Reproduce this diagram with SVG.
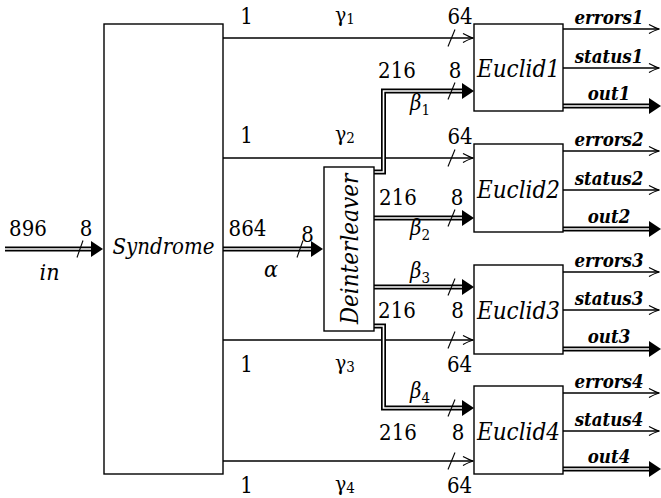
<svg xmlns="http://www.w3.org/2000/svg" width="661" height="498" viewBox="0 0 661 498">
<style>
.box{fill:#fff;stroke:#000;stroke-width:1.4}
.thin{fill:none;stroke:#000;stroke-width:1.3}
.dbo{fill:none;stroke:#000;stroke-width:5;stroke-linejoin:miter}
.dbi{fill:none;stroke:#fff;stroke-width:1.6;stroke-linejoin:miter}
.sl{stroke:#000;stroke-width:1.1}
.t{font-family:"DejaVu Serif Condensed","DejaVu Serif",serif;font-size:22px;fill:#000;text-anchor:middle}
.lab{font-style:italic;font-size:24px}
.syn{font-style:italic;font-size:22px}
.gr{font-size:21px}
.be{font-size:22px;font-style:italic}
.in{font-style:italic;font-size:23px}
.sub{font-size:15px;font-style:normal}
.out{font-style:italic;font-weight:bold;font-size:18.5px}
</style>
<defs>
<marker id="ah" viewBox="-11 -5 12 10" refX="0" refY="0" markerWidth="12" markerHeight="10" markerUnits="userSpaceOnUse" orient="auto">
<path d="M-10,-4.5 Q-3.5,-1 0,0 Q-3.5,1 -10,4.5" fill="none" stroke="#000" stroke-width="1.2"/>
</marker>
<marker id="fh" viewBox="0 0 12 16" refX="0" refY="8" markerWidth="12" markerHeight="16" markerUnits="userSpaceOnUse" orient="auto">
<path d="M0,0 L12,8 L0,16 z" fill="#000"/>
</marker>
</defs>

<g id="connectors">
<path class="thin" d="M223,38 H473" marker-end="url(#ah)"/>
<path class="thin" d="M223,158 H473" marker-end="url(#ah)"/>
<path class="thin" d="M223,340 H473" marker-end="url(#ah)"/>
<path class="thin" d="M223,461 H473" marker-end="url(#ah)"/>
<path class="thin" d="M563,29 H659" marker-end="url(#ah)"/>
<path class="thin" d="M563,68 H659" marker-end="url(#ah)"/>
<path class="thin" d="M563,151 H659" marker-end="url(#ah)"/>
<path class="thin" d="M563,190 H659" marker-end="url(#ah)"/>
<path class="thin" d="M563,272 H659" marker-end="url(#ah)"/>
<path class="thin" d="M563,310 H659" marker-end="url(#ah)"/>
<path class="thin" d="M563,393 H659" marker-end="url(#ah)"/>
<path class="thin" d="M563,431 H659" marker-end="url(#ah)"/>
<path class="dbo" d="M5,249 H91" marker-end="url(#fh)"/>
<path class="dbi" d="M5,249 H91"/>
<path class="dbo" d="M223,249 H311" marker-end="url(#fh)"/>
<path class="dbi" d="M223,249 H311"/>
<path class="dbo" d="M374,172 H383.5 V91 H462" marker-end="url(#fh)"/>
<path class="dbi" d="M374,172 H383.5 V91 H462"/>
<path class="dbo" d="M374,218 H462" marker-end="url(#fh)"/>
<path class="dbi" d="M374,218 H462"/>
<path class="dbo" d="M374,287 H462" marker-end="url(#fh)"/>
<path class="dbi" d="M374,287 H462"/>
<path class="dbo" d="M374,326 H383.5 V408 H462" marker-end="url(#fh)"/>
<path class="dbi" d="M374,326 H383.5 V408 H462"/>
<path class="dbo" d="M563,106 H649" marker-end="url(#fh)"/>
<path class="dbi" d="M563,106 H649"/>
<path class="dbo" d="M563,229 H649" marker-end="url(#fh)"/>
<path class="dbi" d="M563,229 H649"/>
<path class="dbo" d="M563,349 H649" marker-end="url(#fh)"/>
<path class="dbi" d="M563,349 H649"/>
<path class="dbo" d="M563,469 H649" marker-end="url(#fh)"/>
<path class="dbi" d="M563,469 H649"/>
<path class="sl" d="M77,257.5 L83,240.5"/>
<path class="sl" d="M297,257.5 L303,240.5"/>
<path class="sl" d="M448,46.5 L455,29.5"/>
<path class="sl" d="M448,99.5 L455,82.5"/>
<path class="sl" d="M448,166.5 L455,149.5"/>
<path class="sl" d="M448,226.5 L455,209.5"/>
<path class="sl" d="M448,295.5 L455,278.5"/>
<path class="sl" d="M448,348.5 L455,331.5"/>
<path class="sl" d="M448,416.5 L455,399.5"/>
<path class="sl" d="M448,469.5 L455,452.5"/>
<g class="t">
<text x="28" y="236">896</text>
<text x="86" y="236">8</text>
<text class="in" x="49.5" y="280">in</text>
<text x="247.5" y="236">864</text>
<text x="307.5" y="242">8</text>
<text class="in" x="271" y="277">α</text>

<text x="246.5" y="24">1</text>
<text class="gr" x="345" y="22">γ<tspan class="sub" dy="2">1</tspan></text>
<text x="460" y="24">64</text>
<text x="397" y="78">216</text>
<text x="455" y="78">8</text>
<text class="be" x="420" y="110">β<tspan class="sub" dy="5">1</tspan></text>

<text x="246.5" y="143">1</text>
<text class="gr" x="345" y="141">γ<tspan class="sub" dy="2">2</tspan></text>
<text x="460" y="144">64</text>
<text x="398" y="205">216</text>
<text x="457" y="205">8</text>
<text class="be" x="420" y="235">β<tspan class="sub" dy="5">2</tspan></text>

<text class="be" x="420" y="278">β<tspan class="sub" dy="5">3</tspan></text>
<text x="397" y="318">216</text>
<text x="457.5" y="318">8</text>
<text x="246.5" y="372">1</text>
<text class="gr" x="345" y="370">γ<tspan class="sub" dy="2">3</tspan></text>
<text x="459.5" y="372">64</text>

<text class="be" x="420" y="398">β<tspan class="sub" dy="5">4</tspan></text>
<text x="398" y="440">216</text>
<text x="458" y="440">8</text>
<text x="246.5" y="493">1</text>
<text class="gr" x="345" y="491">γ<tspan class="sub" dy="2">4</tspan></text>
<text x="459.5" y="493">64</text>

<text class="out" x="609" y="24">errors1</text>
<text class="out" x="609" y="63">status1</text>
<text class="out" x="609" y="100">out1</text>
<text class="out" x="609" y="146">errors2</text>
<text class="out" x="609" y="185">status2</text>
<text class="out" x="609" y="223">out2</text>
<text class="out" x="609" y="267">errors3</text>
<text class="out" x="609" y="305">status3</text>
<text class="out" x="609" y="343">out3</text>
<text class="out" x="609" y="388">errors4</text>
<text class="out" x="609" y="426">status4</text>
<text class="out" x="609" y="463">out4</text>
</g>
</g>

<g id="syndrome" class="t">
<rect class="box" x="104" y="24" width="119" height="450"/>
<text class="syn" x="163.5" y="254">Syndrome</text>
</g>
<g id="deinterleaver" class="t">
<rect class="box" x="324" y="167" width="50" height="164"/>
<text class="lab" transform="translate(357.5,249) rotate(-90)">Deinterleaver</text>
</g>
<g id="euclid1" class="t">
<rect class="box" x="474" y="24" width="89" height="87"/>
<text class="lab" x="518.5" y="77">Euclid1</text>
</g>
<g id="euclid2" class="t">
<rect class="box" x="474" y="144" width="89" height="88"/>
<text class="lab" x="518.5" y="198">Euclid2</text>
</g>
<g id="euclid3" class="t">
<rect class="box" x="474" y="265" width="89" height="89"/>
<text class="lab" x="518.5" y="319">Euclid3</text>
</g>
<g id="euclid4" class="t">
<rect class="box" x="474" y="386" width="89" height="88"/>
<text class="lab" x="518.5" y="440">Euclid4</text>
</g>
</svg>
